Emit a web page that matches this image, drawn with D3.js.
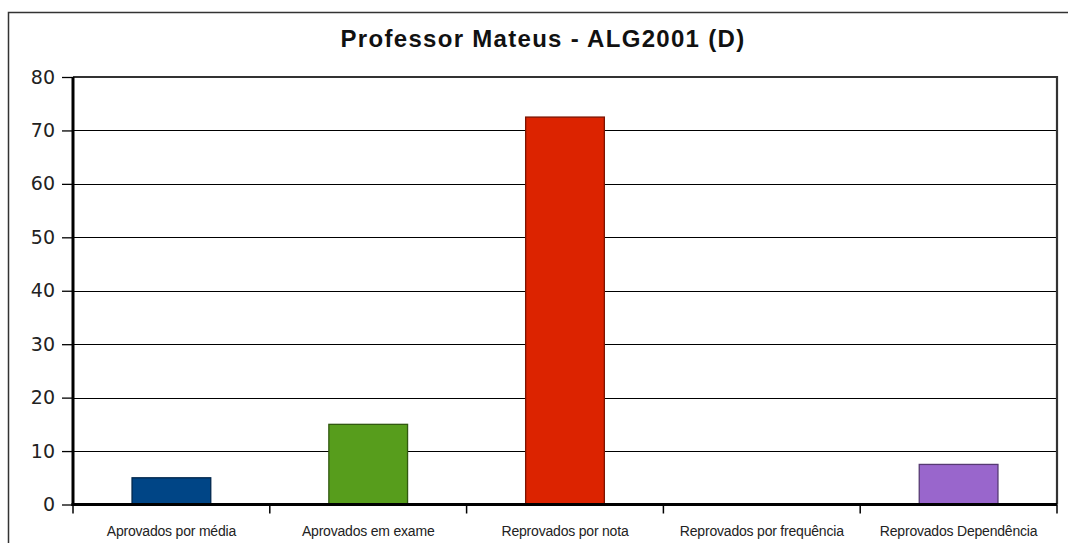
<!DOCTYPE html>
<html><head><meta charset="utf-8">
<script src="https://cdn.jsdelivr.net/npm/d3@7"></script>
<style>html,body{margin:0;padding:0;background:#fff;overflow:hidden}svg{display:block}</style>
</head><body>
<svg id="c" width="1068" height="543"></svg>
<script>
const title = "Professor Mateus - ALG2001 (D)";
const categories = ["Aprovados por média","Aprovados em exame","Reprovados por nota","Reprovados por frequência","Reprovados Dependência"];
const values = [5, 15, 72.5, 0, 7.5];
const colors = ["#004586","#579D1C","#DC2300","#FFD320","#9966CC"];
const yTicks = [0,10,20,30,40,50,60,70,80];

const svg = d3.select("#c");
const L = 73, R = 1057, T = 77, B = 504.5;

// outer frame (top and left edges visible)
svg.append("path").attr("d","M8.5,560V12.5H1080").attr("fill","none")
  .attr("stroke","#333").attr("stroke-width",1.5);

svg.append("text").attr("x",543).attr("y",47).attr("text-anchor","middle")
  .attr("font-family","Liberation Sans, Arial, sans-serif").attr("font-weight","bold")
  .attr("font-size",24).attr("letter-spacing","1.3px").attr("fill","#111").text(title);

const x = d3.scaleBand().domain(categories).range([L,R]).paddingInner(0).paddingOuter(0);
const y = d3.scaleLinear().domain([0,80]).range([B,T]);

// gridlines
svg.append("g").selectAll("line").data(yTicks.filter(d=>d>0&&d<80)).join("line")
  .attr("x1",L).attr("x2",R).attr("y1",d=>Math.round(y(d))+0.5).attr("y2",d=>Math.round(y(d))+0.5)
  .attr("stroke","#000").attr("stroke-width",1);

// plot top/right border
svg.append("path").attr("d",`M${L},${T}H${R}V${B}`).attr("fill","none")
  .attr("stroke","#333").attr("stroke-width",2.2);

// bars
const bw = x.bandwidth()*0.4;
svg.append("g").selectAll("rect").data(values).join("rect")
  .attr("x",(d,i)=>x(categories[i])+x.bandwidth()/2-bw/2)
  .attr("width",bw)
  .attr("y",d=>y(d)).attr("height",d=>Math.max(0,B-y(d)))
  .attr("fill",(d,i)=>colors[i])
  .attr("stroke",(d,i)=>d3.color(colors[i]).darker(1.6))
  .attr("stroke-width",1.3)
  .attr("display",d=>d>0?null:"none");

// y axis
const ya = d3.axisLeft(y).tickValues(yTicks).tickSize(11).tickPadding(7).tickFormat(d3.format("d"));
const gy = svg.append("g").attr("transform",`translate(${L},0)`).call(ya);
gy.select(".domain").remove();
gy.selectAll(".tick line").attr("stroke","#000").attr("stroke-width",1.3);
gy.selectAll("text").attr("font-family","DejaVu Sans, sans-serif").attr("font-size",19).attr("fill","#222");

// x axis
const xa = d3.axisBottom(x).tickSize(0).tickPadding(20);
const gx = svg.append("g").attr("transform",`translate(0,${B})`).call(xa);
gx.select(".domain").remove();
gx.selectAll("text").attr("font-family","Liberation Sans, Arial, sans-serif").attr("font-size",14)
  .attr("letter-spacing","-0.2px").attr("fill","#222").attr("dy","0.85em");
// category boundary ticks
const bounds = categories.map(c=>x(c)).concat([R]);
svg.append("g").selectAll("line").data(bounds).join("line")
  .attr("x1",d=>d).attr("x2",d=>d).attr("y1",B).attr("y2",B+9)
  .attr("stroke","#000").attr("stroke-width",1.5);

// axis lines
svg.append("line").attr("x1",L).attr("x2",L).attr("y1",T).attr("y2",B+1.5).attr("stroke","#000").attr("stroke-width",3);
svg.append("line").attr("x1",L-1.5).attr("x2",R).attr("y1",B).attr("y2",B).attr("stroke","#000").attr("stroke-width",3);
</script>
</body></html>
